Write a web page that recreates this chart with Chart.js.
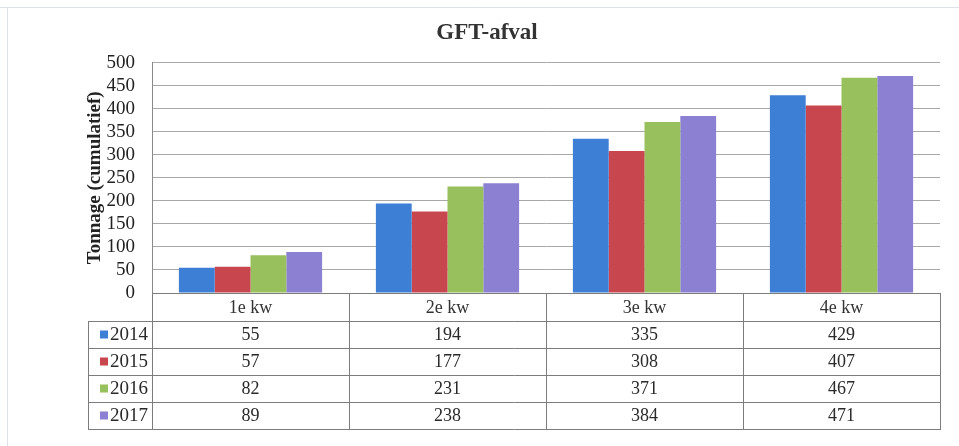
<!DOCTYPE html>
<html>
<head>
<meta charset="utf-8">
<script src="https://cdn.jsdelivr.net/npm/chart.js@4"></script>
<style>
  html, body { margin: 0; padding: 0; background: #fff; }
</style>
</head>
<body>
<canvas id="chart" width="959" height="446"></canvas>
<script>
// data
const categories = ['1e kw', '2e kw', '3e kw', '4e kw'];
const years = ['2014', '2015', '2016', '2017'];
const v2014 = [55, 194, 335, 429];
const v2015 = [57, 177, 308, 407];
const v2016 = [82, 231, 371, 467];
const v2017 = [89, 238, 384, 471];
const yMin = 0, yMax = 500, yStep = 50;

const colors = ['#3d7fd5', '#c8474f', '#98c05c', '#8c80d2'];
const serif = "'Liberation Serif', 'DejaVu Serif', serif";

/*
 * dataTable : draws the Excel style data table under the bars,
 * one row per series, using the x scale for the columns
 **/
const dataTable = {
  id: 'dataTable',
  beforeDraw(chart) {
    const ctx = chart.ctx;
    ctx.save();
    ctx.strokeStyle = '#dde2ea';
    ctx.lineWidth = 1;
    ctx.beginPath();
    ctx.moveTo(0, 7.5); ctx.lineTo(959, 7.5);
    ctx.moveTo(7.5, 7); ctx.lineTo(7.5, 446);
    ctx.stroke();
    ctx.restore();
  },
  afterDraw(chart) {
    const ctx = chart.ctx;
    const area = chart.chartArea;
    const x = chart.scales.x;
    const sets = chart.data.datasets;
    const headH = 28, rowH = 27;
    const top = Math.round(area.bottom);
    const bodyTop = top + headH;
    const bottom = bodyTop + rowH * sets.length;
    const left = 88;
    const step = (area.right - area.left) / categories.length;

    ctx.save();
    ctx.strokeStyle = '#7d7d7d';
    ctx.lineWidth = 1;
    ctx.beginPath();
    for (let i = 0; i <= categories.length; i++) {
      const bx = Math.round(area.left + i * step) + 0.5;
      ctx.moveTo(bx, top); ctx.lineTo(bx, bottom);
    }
    ctx.moveTo(left + 0.5, bodyTop); ctx.lineTo(left + 0.5, bottom);
    for (let r = 0; r <= sets.length; r++) {
      const ly = bodyTop + r * rowH + 0.5;
      ctx.moveTo(left, ly); ctx.lineTo(Math.round(area.right) + 1, ly);
    }
    ctx.stroke();

    ctx.textBaseline = 'middle';
    sets.forEach((ds, r) => {
      const cy = bodyTop + r * rowH + rowH / 2 + 1;
      ctx.fillStyle = ds.backgroundColor;
      ctx.fillRect(100, cy - 5, 8, 8);
      ctx.fillStyle = '#2a2a2a';
      ctx.font = '19px ' + serif;
      ctx.textAlign = 'right';
      ctx.fillText(ds.label, 148, cy);
      ctx.font = '18px ' + serif;
      ctx.textAlign = 'center';
      ds.data.forEach((v, i) => {
        ctx.fillText(String(v), x.getPixelForValue(i), cy);
      });
    });
    ctx.restore();
  }
};

new Chart(document.getElementById('chart'), {
  type: 'bar',
  data: {
    labels: categories,
    datasets: [
      { label: years[0], data: v2014, backgroundColor: colors[0] },
      { label: years[1], data: v2015, backgroundColor: colors[1] },
      { label: years[2], data: v2016, backgroundColor: colors[2] },
      { label: years[3], data: v2017, backgroundColor: colors[3] }
    ]
  },
  options: {
    responsive: false,
    animation: false,
    barPercentage: 1,
    categoryPercentage: 0.727,
    layout: { padding: { left: 34, right: 19, top: 0, bottom: 125 } },
    plugins: {
      legend: { display: false },
      tooltip: { enabled: false },
      title: {
        display: true,
        text: 'GFT-afval',
        color: '#333',
        font: { family: serif, size: 23, weight: 'bold' },
        padding: { top: 19, bottom: 16 }
      }
    },
    scales: {
      x: {
        grid: { display: false, drawTicks: false },
        border: { display: true, color: '#7d7d7d' },
        ticks: { color: '#333', font: { family: serif, size: 18 }, padding: 4, maxRotation: 0 },
        afterFit(s) { s.height = 28; }
      },
      y: {
        min: yMin,
        max: yMax,
        ticks: { stepSize: yStep, autoSkip: false, color: '#222', font: { family: serif, size: 19 }, padding: 17 },
        grid: { color: '#a8a8a8', drawTicks: false },
        border: { display: true, color: '#8a8a8a' },
        title: {
          display: true,
          text: 'Tonnage (cumulatief)',
          color: '#222',
          font: { family: serif, size: 19, weight: 'bold' },
          padding: { top: 50, bottom: 0 }
        },
        afterFit(s) { s.width = 118; }
      }
    }
  },
  plugins: [dataTable]
});
</script>
</body>
</html>
